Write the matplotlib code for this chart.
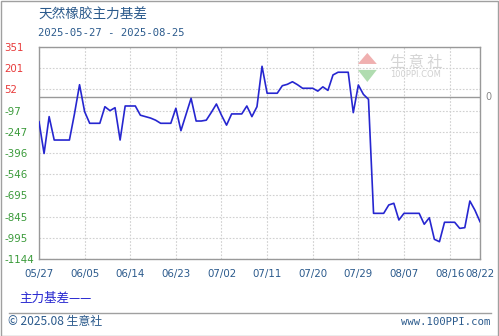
import matplotlib.pyplot as plt
import matplotlib.patches as mpatches
import numpy as np
import pandas as pd

# daily basis values, 2025-05-27 .. 2025-08-22
dates = pd.date_range('2025-05-27', '2025-08-22', freq='D')
basis = [-176, -400, -140, -305, -305, -305, -305, -120, 85, -105,
         -187, -187, -187, -70, -98, -77, -305, -65, -65, -65,
         -130, -140, -150, -165, -187, -187, -187, -81, -239, -125,
         -11, -171, -171, -165, -110, -51, -130, -200, -121, -121,
         -121, -65, -140, -70, 215, 25, 25, 25, 78, 88,
         106, 85, 60, 60, 60, 40, 70, 45, 154, 173,
         173, 173, -112, 83, 17, -18, -822, -822, -822, -763,
         -751, -869, -822, -822, -822, -822, -899, -853, -1005, -1022,
         -885, -885, -885, -928, -923, -735, -800, -881]

y_ticks = [351, 201, 52, -97, -247, -396, -546, -695, -845, -995, -1144]
x_tick_days = [0, 9, 18, 27, 36, 45, 54, 63, 72, 81, 87]

W, H = 499, 336
fig = plt.figure(figsize=(W / 100, H / 100), dpi=100)
CJK = ['Noto Sans CJK SC', 'DejaVu Sans']
navy = '#2b5a8c'

# outer frame of the image
fig.patches.append(mpatches.Rectangle((0.5 / W, 0.5 / H), 1 - 1.5 / W, 1 - 1.5 / H,
                                      transform=fig.transFigure, fill=False,
                                      edgecolor='#a0a0a0', linewidth=1))

ax = fig.add_axes([39 / W, 1 - 259 / H, (480 - 39) / W, (259 - 47) / H])
x = np.arange(len(basis))
ax.plot(x, basis, color='#2626d0', linewidth=1.2, zorder=3)
ax.axhline(0, color='#999999', linewidth=1, zorder=2)

ax.set_xlim(0, len(basis) - 1)
ax.set_ylim(y_ticks[-1], y_ticks[0])

ax.set_yticks(y_ticks, [str(v) for v in y_ticks])
for lab, v in zip(ax.get_yticklabels(), y_ticks):
    lab.set_color('#e83a3a' if v > 0 else '#3a9a3a')
    lab.set_ha('left')
    lab.set_fontsize(7.4)
ax.tick_params(axis='y', length=0, pad=25)

ax.set_xticks(x_tick_days, [dates[i].strftime('%m/%d') for i in x_tick_days])
ax.tick_params(axis='x', length=0, pad=7, labelsize=7.4, labelcolor=navy)

ax.grid(True, color='#d0d0d0', linestyle=(0, (1.5, 1.5)), linewidth=0.8)
for s in ax.spines.values():
    s.set_color('#999999')
    s.set_linewidth(1)

ax.text(1.012, 0, '0', transform=ax.get_yaxis_transform(), ha='left', va='center',
        fontsize=7, color='#888888')

# watermark
ax.text(0.855, 0.929, '生 意 社', transform=ax.transAxes, fontsize=11,
        family=CJK, color='#d4d4d4', ha='center', va='center', zorder=1)
ax.text(0.853, 0.868, '100PPI.COM', transform=ax.transAxes, fontsize=6,
        color='#d0d0d0', ha='center', va='center', zorder=1)
ax.add_patch(mpatches.Polygon([[0.723, 0.92], [0.766, 0.92], [0.7445, 0.972]],
                              closed=True, transform=ax.transAxes,
                              facecolor='#f0b0b0', edgecolor='none', zorder=1))
ax.add_patch(mpatches.Polygon([[0.723, 0.892], [0.766, 0.892], [0.7445, 0.835]],
                              closed=True, transform=ax.transAxes,
                              facecolor='#b0dcb0', edgecolor='none', zorder=1))

# titles
fig.text(38 / W, 1 - 15 / H, '天然橡胶主力基差', fontsize=9.8, family=CJK,
         color=navy, ha='left', va='center')
fig.text(38 / W, 1 - 33 / H, '2025-05-27 - 2025-08-25', fontsize=7.6,
         family='DejaVu Sans Mono', color=navy, ha='left', va='center')

# legend
fig.text(19 / W, 1 - 298 / H, '主力基差——', fontsize=9, family=CJK,
         color='#2626d0', ha='left', va='center')

# footer
fig.add_artist(plt.Line2D([9 / W, 491 / W], [1 - 313 / H, 1 - 313 / H],
                          transform=fig.transFigure, color='#a0a0a0', linewidth=1))
fig.text(8 / W, 1 - 322 / H, '© 2025.08 生意社', fontsize=8.6, family=CJK,
         color=navy, ha='left', va='center')
fig.text(490 / W, 1 - 322 / H, 'www.100PPI.com', fontsize=7.7,
         family='DejaVu Sans Mono', color=navy, ha='right', va='center')

fig.savefig('out.png', dpi=100)
